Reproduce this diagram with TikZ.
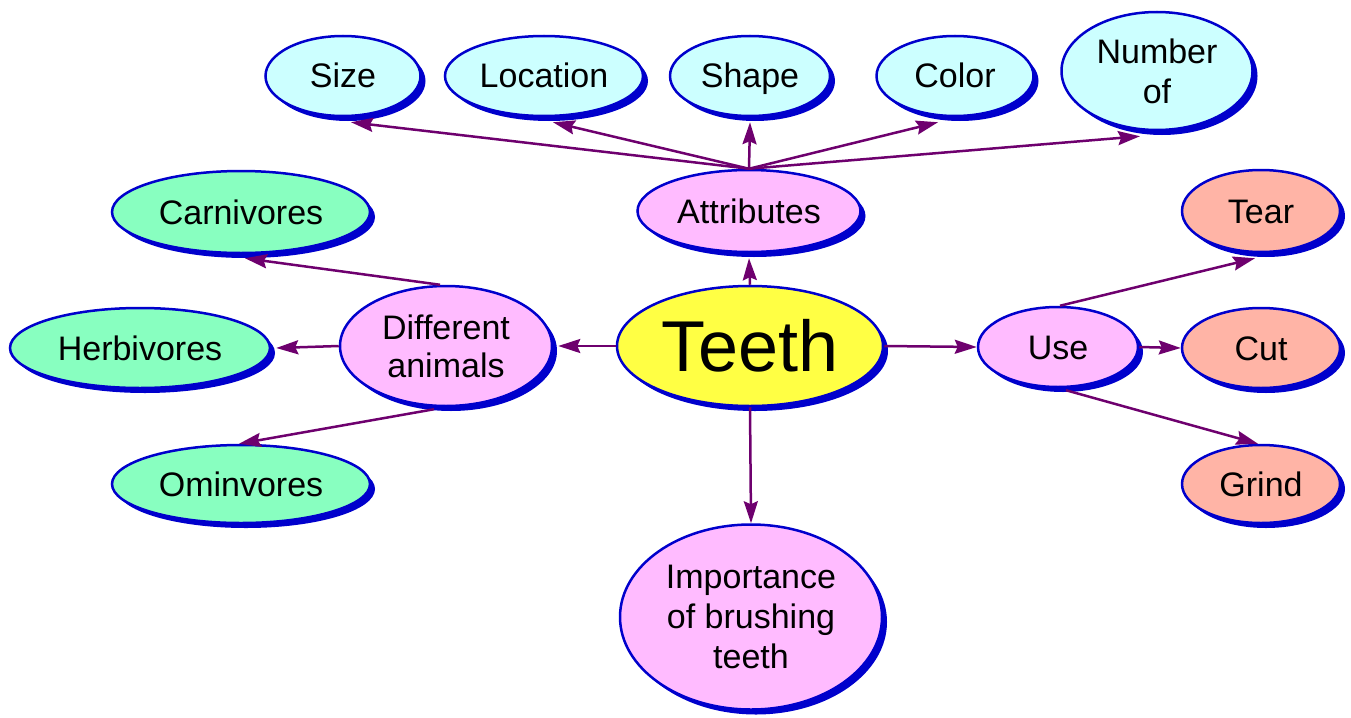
\documentclass[tikz,border=0pt]{standalone}
\usepackage{fontspec}
\setmainfont{Liberation Sans}
\usetikzlibrary{shapes.geometric,shadows,arrows.meta}
\definecolor{bordblue}{HTML}{0000CC}
\definecolor{edgepurple}{HTML}{6E006E}
\definecolor{cyanfill}{HTML}{CCFFFF}
\definecolor{pinkfill}{HTML}{FFBBFF}
\definecolor{greenfill}{HTML}{88FFC0}
\definecolor{salmonfill}{HTML}{FFB4A6}
\definecolor{yellowfill}{HTML}{FFFF44}
\tikzset{
  bub/.style={ellipse, draw=bordblue, line width=2.5pt, inner sep=0pt, align=center,
    font=\fontsize{34}{38}\selectfont,
    general shadow={fill=bordblue, shadow xshift=5pt, shadow yshift=-5pt}},
  oneline/.style={text height=30pt, text depth=6pt},
  attr/.style={bub, fill=cyanfill},
  mid/.style={bub, fill=pinkfill},
  anim/.style={bub, fill=greenfill},
  usebub/.style={bub, fill=salmonfill},
  edge/.style={draw=edgepurple, line width=2.5pt, -{Stealth[length=22pt,width=14pt,inset=3pt]}},
}
\begin{document}
\begin{tikzpicture}[x=1pt,y=-1pt]
\useasboundingbox (0,0) rectangle (1351,717);
% top attributes
\node[attr, oneline, minimum width=155pt, minimum height=80pt] (size) at (343,76) {Size};
\node[attr, oneline, minimum width=198pt, minimum height=80pt] (loc) at (544,76) {Location};
\node[attr, oneline, minimum width=160pt, minimum height=80pt] (shape) at (750,76) {Shape};
\node[attr, oneline, minimum width=157pt, minimum height=80pt] (color) at (955,76) {Color};
\node[attr, minimum width=191pt, minimum height=118pt, font=\fontsize{34}{40}\selectfont] (num) at (1157,71) {Number\\of};
% middle
\node[mid, oneline, minimum width=223pt, minimum height=82pt] (attrib) at (749,211) {Attributes};
\node[bub, fill=yellowfill, minimum width=266pt, minimum height=120pt,
      font=\fontsize{72}{74}\selectfont] (teeth) at (750,346) {Teeth};
\node[mid, minimum width=212pt, minimum height=120pt] (diff) at (446,346) {Different\\animals};
\node[mid, oneline, minimum width=160pt, minimum height=80pt] (use) at (1058,347) {Use};
\node[mid, minimum width=262pt, minimum height=185pt, font=\fontsize{34}{40}\selectfont] (imp) at (751,617) {Importance\\of brushing\\teeth};
% animals
\node[anim, oneline, minimum width=258pt, minimum height=82pt] (carn) at (241,212) {Carnivores};
\node[anim, oneline, minimum width=260pt, minimum height=80pt] (herb) at (140,348) {Herbivores};
\node[anim, oneline, minimum width=258pt, minimum height=78pt] (omni) at (241,484) {Ominvores};
% uses
\node[usebub, oneline, minimum width=158pt, minimum height=82pt] (tear) at (1261,211) {Tear};
\node[usebub, oneline, minimum width=158pt, minimum height=80pt] (cut) at (1261,348) {Cut};
\node[usebub, oneline, minimum width=158pt, minimum height=78pt] (grind) at (1261,484) {Grind};
% edges from Attributes
\draw[edge] (attrib.north) -- ([shift={(8,5)}]size.south);
\draw[edge] (attrib.north) -- ([shift={(9,5)}]loc.south);
\draw[edge] (attrib.north) -- ([shift={(0,5)}]shape.south);
\draw[edge] (attrib.north) -- ([shift={(-17,5)}]color.south);
\draw[edge] (attrib.north) -- ([shift={(-17,5)}]num.south);
% edges from Teeth
\draw[edge] (teeth.north) -- ([shift={(0,5)}]attrib.south);
\draw[edge] (teeth.west) -- ([shift={(5,0)}]diff.east);
\draw[edge] (teeth.east) -- (use.west);
\draw[edge] (teeth.south) -- (imp.north);
% edges from Different animals
\draw[edge] ([shift={(-6,0)}]diff.north) -- ([shift={(4,4)}]carn.south);
\draw[edge] (diff.west) -- ([shift={(5,0)}]herb.east);
\draw[edge] ([shift={(-12,2)}]diff.south) -- ([shift={(-2,0)}]omni.north);
% edges from Use
\draw[edge] ([shift={(2,0)}]use.north) -- ([shift={(-6,5)}]tear.south);
\draw[edge] (use.east) -- (cut.west);
\draw[edge] ([shift={(8,2)}]use.south) -- ([shift={(-3,0)}]grind.north);
\end{tikzpicture}
\end{document}
